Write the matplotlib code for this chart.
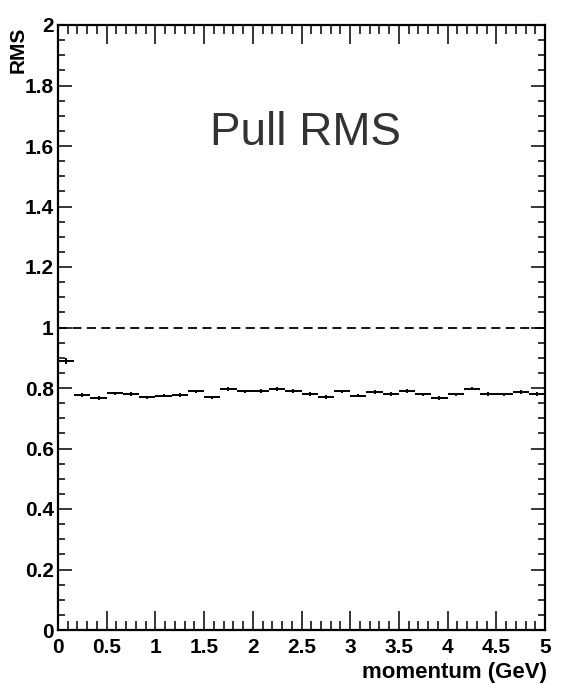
import matplotlib
matplotlib.use("Agg")
import matplotlib.pyplot as plt
from matplotlib.ticker import MultipleLocator
import numpy as np

# ---- data ----
bin_edges_lo = 0.0
bin_edges_hi = 5.0
n_bins = 30
rms_values = [0.889, 0.777, 0.766, 0.782, 0.781, 0.769, 0.775, 0.777, 0.789, 0.769,
              0.796, 0.789, 0.790, 0.797, 0.791, 0.780, 0.771, 0.789, 0.775, 0.786,
              0.780, 0.790, 0.779, 0.766, 0.779, 0.798, 0.781, 0.779, 0.786, 0.781]
rms_errors = [0.010] + [0.006] * 29
reference_level = 1.0
title_text = "Pull RMS"
x_label = "momentum (GeV)"
y_label = "RMS"
x_ticks = [0, 0.5, 1, 1.5, 2, 2.5, 3, 3.5, 4, 4.5, 5]
x_tick_labels = ["0", "0.5", "1", "1.5", "2", "2.5", "3", "3.5", "4", "4.5", "5"]
y_ticks = [0, 0.2, 0.4, 0.6, 0.8, 1.0, 1.2, 1.4, 1.6, 1.8, 2.0]
y_tick_labels = ["0", "0.2", "0.4", "0.6", "0.8", "1", "1.2", "1.4", "1.6", "1.8", "2"]

edges = np.linspace(bin_edges_lo, bin_edges_hi, n_bins + 1)
centers = 0.5 * (edges[:-1] + edges[1:])
half_w = 0.5 * (edges[1:] - edges[:-1])

W, H = 562, 684
fig = plt.figure(figsize=(W / 100, H / 100), dpi=100)
ax = fig.add_axes([58 / W, (H - 630) / H, 487 / W, 605 / H])

ax.errorbar(centers, rms_values, xerr=half_w, yerr=rms_errors, fmt='none',
            ecolor='black', elinewidth=1.4, capsize=0)
ax.axhline(reference_level, color='black', lw=1.3, ls=(0, (5, 3)))

ax.set_xlim(0, 5)
ax.set_ylim(0, 2)
ax.xaxis.set_minor_locator(MultipleLocator(0.1))
ax.yaxis.set_minor_locator(MultipleLocator(0.05))

font = dict(family="Liberation Sans", weight="bold")

ax.set_xticks(x_ticks)
ax.set_xticklabels(x_tick_labels, fontdict=dict(size=15, **font))
ax.set_yticks(y_ticks)
ax.set_yticklabels(y_tick_labels, fontdict=dict(size=15, **font))

ax.tick_params(axis='x', which='major', direction='in', length=13.5, width=1.1,
               top=True, pad=6, colors='black')
ax.tick_params(axis='x', which='minor', direction='in', length=6.5, width=1.1, top=True)
ax.tick_params(axis='y', which='major', direction='in', length=10, width=1.1,
               right=True, pad=3)
ax.tick_params(axis='y', which='minor', direction='in', length=5, width=1.1, right=True)

for sp in ax.spines.values():
    sp.set_linewidth(1.6)

ax.text(2.54, 1.643, title_text, ha='center', va='center', fontsize=33,
        family="Liberation Sans", color='#333333')

fig.text(547 / W, 1 / H, x_label, ha='right', va='bottom',
         fontsize=16, **font)
fig.text(18 / W, (H - 27) / H, y_label, ha='center', va='top', rotation=90,
         fontsize=15, **font)

fig.savefig("out.png", dpi=100)
